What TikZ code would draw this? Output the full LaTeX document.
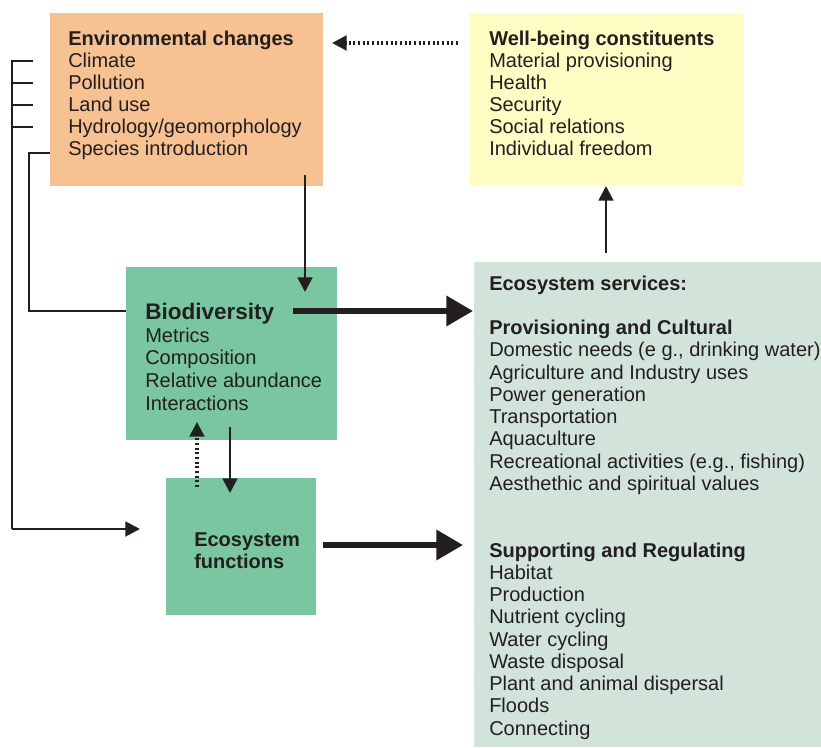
\documentclass[tikz,border=0pt]{standalone}
\usepackage{fontspec}
\setmainfont{Liberation Sans}
\usetikzlibrary{arrows.meta,fit}
\definecolor{ink}{RGB}{35,31,32}
\definecolor{envfill}{RGB}{247,193,146}
\definecolor{wbfill}{RGB}{255,253,196}
\definecolor{biofill}{RGB}{121,198,160}
\definecolor{svcfill}{RGB}{210,227,218}
\begin{document}
\begin{tikzpicture}[x=0.75pt,y=-0.75pt,
  box/.style={draw=none, inner sep=0pt, rectangle},
  txt/.style={inner sep=0pt, anchor=base west, text=ink, font=\fontsize{15}{18}\selectfont},
  head/.style={txt, font=\fontsize{15}{18}\selectfont\bfseries},
  bighead/.style={txt, font=\fontsize{16.9}{20}\selectfont\bfseries},
  conn/.style={draw=ink, line width=2.1pt, -{Triangle[length=11pt,width=11pt]}},
  dotconn/.style={conn, line width=2.3pt, dash pattern=on 1.5pt off 2pt},
  bigconn/.style={draw=ink, line width=4.3pt, -{Triangle[length=20pt,width=22pt]}},
  bracket/.style={draw=ink, line width=2.1pt},
]
\useasboundingbox (0,0) rectangle (821,747);

% boxes
\node[box, fill=envfill, fit={(49.5,12.5) (322.5,185.5)}] (env) {};
\node[box, fill=wbfill,  fit={(470,12.5) (742.5,185)}] (wb) {};
\node[box, fill=biofill, fit={(126,267) (336.5,440)}] (bio) {};
\node[box, fill=biofill, fit={(166,478) (316,615)}] (fun) {};
\node[box, fill=svcfill, fit={(474,262) (821,747)}] (svc) {};

% environmental changes
\node[head] (envh) at (68,45) {Environmental changes};
\foreach \t [count=\i from 0] in {Climate, Pollution, Land use, Hydrology/geomorphology, Species introduction}
  \node[txt] (env\i) at (68,{67+22.15*\i}) {\t};

% well-being constituents
\node[head] (wbh) at (489,45) {Well-being constituents};
\foreach \t [count=\i from 0] in {Material provisioning, Health, Security, Social relations, Individual freedom}
  \node[txt] (wb\i) at (489,{67+22.15*\i}) {\t};

% biodiversity
\node[bighead] (bioh) at (145,319) {Biodiversity};
\foreach \t [count=\i from 0] in {Metrics, Composition, Relative abundance, Interactions}
  \node[txt] (bio\i) at (145,{342.3+22.6*\i}) {\t};

% ecosystem functions
\node[head] (funa) at (194,546) {Ecosystem};
\node[head] (funb) at (194,568) {functions};

% ecosystem services
\node[head] (svch) at (489,290) {Ecosystem services:};
\node[head] (svcp) at (489,{290+2*22.25}) {Provisioning and Cultural};
\foreach \t [count=\i from 0] in {{Domestic needs (e g., drinking water)}, Agriculture and Industry uses, Power generation, Transportation, Aquaculture, {Recreational activities (e.g., fishing)}, Aesthethic and spiritual values}
  \node[txt] (svcp\i) at (489,{290+(3+\i)*22.25}) {\t};
\node[head] (svcs) at (489,{290+12*22.25}) {Supporting and Regulating};
\foreach \t [count=\i from 0] in {Habitat, Production, Nutrient cycling, Water cycling, Waste disposal, Plant and animal dispersal, Floods, Connecting}
  \node[txt] (svcs\i) at (489,{290+(13+\i)*22.25}) {\t};

% connector end points
\coordinate (eb1) at (305,175);  \coordinate (eb2) at (305,292);
\coordinate (bs1) at (293,311);  \coordinate (bs2) at (473,311);
\coordinate (fs1) at (323,545);  \coordinate (fs2) at (463,545);
\coordinate (we1) at (458,43);   \coordinate (we2) at (332,43);
\coordinate (sw1) at (606,253);  \coordinate (sw2) at (606,186);
\coordinate (bf1) at (230,427);  \coordinate (bf2) at (230,493);
\coordinate (fb1) at (197,487);  \coordinate (fb2) at (197,422);

\draw[conn] (eb1) -- (eb2);
\draw[bigconn] (bs1) -- (bs2);
\draw[bigconn] (fs1) -- (fs2);
\draw[dotconn] (we1) -- (we2);
\draw[conn] (sw1) -- (sw2);
\draw[conn] (bf1) -- (bf2);
\draw[dotconn] (fb1) -- (fb2);

% bracket from the environmental drivers
\coordinate (k1) at (33,61);  \coordinate (k2) at (33,83);
\coordinate (k3) at (33,105); \coordinate (k4) at (33,127);
\coordinate (kb) at (12,529); \coordinate (kf) at (140,529);
\draw[bracket] (k1) -- (12,61) -- (kb);
\draw[bracket] (k2) -- (12,83);
\draw[bracket] (k3) -- (12,105);
\draw[bracket] (k4) -- (12,127);
\draw[bracket, -{Triangle[length=11pt,width=11pt]}] (kb) -- (kf);

% species introduction feeds biodiversity
\coordinate (sp1) at (50,153); \coordinate (sp2) at (126,311);
\draw[bracket] (sp1) -- (29,153) -- (29,311) -- (sp2);
\end{tikzpicture}
\end{document}
